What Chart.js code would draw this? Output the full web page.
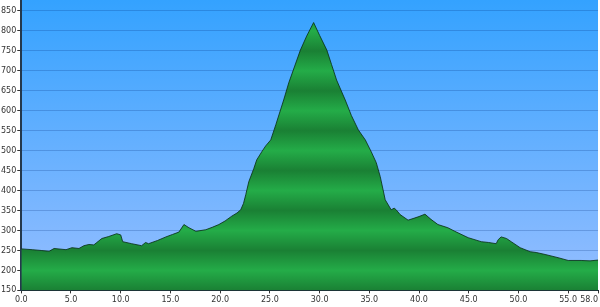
<!DOCTYPE html>
<html><head><meta charset="utf-8">
<script src="https://cdn.jsdelivr.net/npm/chart.js@4.4.0/dist/chart.umd.min.js"></script>
<style>html,body{margin:0;padding:0;background:#fff}#wrap{width:600px;height:307px}</style>
</head><body><div id="wrap"><canvas id="c" width="600" height="307"></canvas></div>
<script>
const distanceKm = [0,1.1,2.0,2.8,3.3,4.5,5.1,5.8,6.3,6.8,7.3,7.6,8.1,8.8,9.6,10.0,10.2,11.1,12.1,12.5,12.8,13.7,14.55,15.2,15.85,16.36,16.86,17.56,18.56,19.2,19.87,20.5,21.17,21.7,22.07,22.35,22.58,22.88,23.38,23.68,24.18,24.58,25.09,25.6,26.39,26.9,27.5,28.07,28.7,29.4,30.0,30.73,31.2,31.71,32.58,33.2,33.9,34.6,35.2,35.7,36.1,36.6,37.2,37.5,37.7,38.1,38.9,39.4,40.0,40.6,41.2,41.9,42.9,43.6,44.95,46.26,47.0,47.76,47.96,48.26,48.8,49.27,50.17,51.17,51.78,52.68,53.98,55.0,56.3,57.2,58.0];
const elevationM = [254,252,250,248,255,252,257,255,262,265,264,270,280,285,292,289,272,267,262,270,267,275,284,290,296,315,307,298,302,308,315,324,336,344,352,368,390,422,455,477,497,512,527,565,627,670,712,752,787,821,789,752,716,677,627,588,552,527,497,470,435,377,352,356,352,340,326,330,335,341,328,315,307,298,282,272,270,267,277,284,280,272,257,247,245,240,232,225,225,224,226];
const xTickValues = [0,5,10,15,20,25,30,35,40,45,50,55,58];
const yTickValues = [150,200,250,300,350,400,450,500,550,600,650,700,750,800,850];

const LIGHT = 'rgb(36,172,72)';
const DARK = 'rgb(26,128,52)';

function bandFill(context) {
  const chart = context.chart;
  const {ctx, chartArea, scales} = chart;
  if (!chartArea) return LIGHT;
  const ys = scales.y;
  const top = chartArea.top, bottom = chartArea.bottom, span = bottom - top;
  const g = ctx.createLinearGradient(0, bottom, 0, top);
  for (let v = 150; v <= 900; v += 50) {
    const p = (bottom - ys.getPixelForValue(v)) / span;
    if (p < 0 || p > 1) continue;
    g.addColorStop(p, (v % 100) === 50 ? DARK : LIGHT);
  }
  return g;
}

const skyPlugin = {
  id: 'sky',
  beforeDraw(chart) {
    const {ctx, chartArea} = chart;
    const g = ctx.createLinearGradient(0, chartArea.top, 0, chartArea.bottom);
    g.addColorStop(0, 'rgb(52,162,255)');
    g.addColorStop(1, 'rgb(150,190,255)');
    ctx.save();
    ctx.fillStyle = g;
    ctx.fillRect(chartArea.left, chartArea.top, chartArea.right - chartArea.left, chartArea.bottom - chartArea.top);
    ctx.restore();
    // keep the first x label centred on its tick (only the last one hugs the right edge)
    const items = chart.scales.x.getLabelItems();
    if (items.length) items[0].options.textAlign = 'center';
  }
};

const tickFont = {family: 'DejaVu Sans', size: 8};

new Chart(document.getElementById('c'), {
  type: 'line',
  data: {
    datasets: [{
      data: distanceKm.map((x, i) => ({x, y: elevationM[i]})),
      fill: 'start',
      backgroundColor: bandFill,
      borderColor: 'rgba(10,50,25,0.85)',
      borderWidth: 1,
      pointRadius: 0,
      tension: 0
    }]
  },
  options: {
    responsive: false,
    animation: false,
    devicePixelRatio: 1,
    layout: {padding: 0},
    plugins: {legend: {display: false}, tooltip: {enabled: false}},
    scales: {
      x: {
        type: 'linear', min: 0, max: 58,
        afterBuildTicks: s => { s.ticks = xTickValues.map(v => ({value: v})); },
        ticks: {callback: v => Number(v).toFixed(1), font: tickFont, color: '#333', align: 'inner', padding: 2, autoSkip: false, maxRotation: 0},
        grid: {drawOnChartArea: false, tickLength: 3, tickColor: '#333'},
        border: {color: '#1c2a38', width: 1}
      },
      y: {
        min: 150, max: 877.5, z: 1,
        afterBuildTicks: s => { s.ticks = yTickValues.map(v => ({value: v})); },
        afterFit: s => { s.paddingTop = 0; s.paddingBottom = 0; },
        ticks: {font: tickFont, color: '#333', padding: 1},
        grid: {color: 'rgba(0,40,120,0.22)', tickLength: 4, tickColor: '#333'},
        border: {color: '#24384c', width: 2}
      }
    }
  },
  plugins: [skyPlugin]
});
</script>
</body></html>
